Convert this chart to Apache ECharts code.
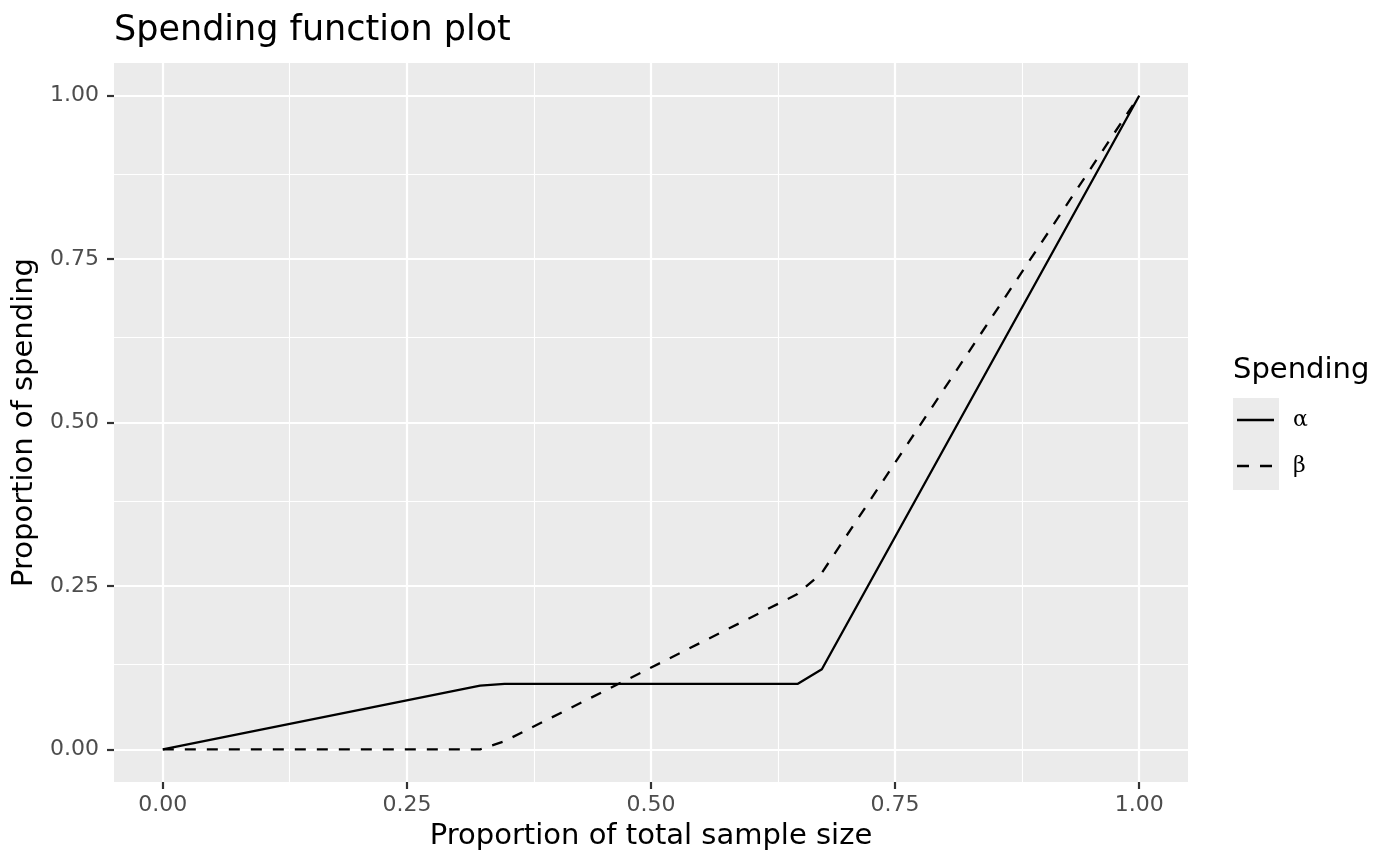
<!DOCTYPE html>
<html><head><meta charset="utf-8">
<script src="https://cdn.jsdelivr.net/npm/echarts@6/dist/echarts.min.js"></script>
<style>html,body{margin:0;padding:0;background:#fff}#c{width:1400px;height:866px}</style>
</head><body><div id="c"></div>
<script>
var xs = [0, 0.325, 0.35, 0.65, 0.675, 1];
var alphaVals = [0, 0.0975, 0.1, 0.1, 0.1225, 1];
var betaVals = [0, 0, 0.0125, 0.2375, 0.27, 1];
var seriesNames = ['\u03b1', '\u03b2'];
var majorTicks = [0, 0.25, 0.5, 0.75, 1];
var minorTicks = [0.125, 0.375, 0.625, 0.875];
var tickLabels = ['0.00', '0.25', '0.50', '0.75', '1.00'];

function pairs(x, y){ return x.map(function(v,i){return [v, y[i]];}); }
var gridLines = [];
minorTicks.forEach(function(v){ gridLines.push({xAxis: v, lineStyle:{width:1.1}}); gridLines.push({yAxis: v, lineStyle:{width:1.1}}); });
majorTicks.forEach(function(v){ gridLines.push({xAxis: v, lineStyle:{width:2.2}}); gridLines.push({yAxis: v, lineStyle:{width:2.2}}); });

var chart = echarts.init(document.getElementById('c'));
var fmt = function(v){ var i = majorTicks.indexOf(v); return i>=0 ? tickLabels[i] : ''; };
var dash = [11, 11];
chart.setOption({
  animation: false,
  backgroundColor: '#fff',
  title: { text: 'Spending function plot', left: 114, top: 13, padding: 0,
    textStyle: { fontFamily: 'DejaVu Sans', fontSize: 35, fontWeight: 'normal', color: '#000' } },
  grid: { left: 114, right: 212, top: 63, bottom: 84, show: true, backgroundColor: '#ebebeb', borderWidth: 0 },
  xAxis: { type: 'value', min: -0.05, max: 1.05,
    name: 'Proportion of total sample size', nameLocation: 'middle', nameGap: 40,
    nameTextStyle: { fontFamily: 'DejaVu Sans', fontSize: 29, color: '#000' },
    axisLine: { show: false, onZero: false }, splitLine: { show: false },
    axisTick: { show: true, length: 7, customValues: majorTicks, lineStyle: { color: '#333', width: 2.2 } },
    axisLabel: { customValues: majorTicks, formatter: fmt, margin: 12, fontFamily: 'DejaVu Sans', fontSize: 22, color: '#4d4d4d' } },
  yAxis: { type: 'value', min: -0.05, max: 1.05,
    name: 'Proportion of spending', nameLocation: 'middle', nameGap: 72, nameRotate: 90,
    nameTextStyle: { fontFamily: 'DejaVu Sans', fontSize: 29, color: '#000' },
    axisLine: { show: false, onZero: false }, splitLine: { show: false },
    axisTick: { show: true, length: 7, customValues: majorTicks, lineStyle: { color: '#333', width: 2.2 } },
    axisLabel: { customValues: majorTicks, formatter: fmt, margin: 15, fontFamily: 'DejaVu Sans', fontSize: 22, color: '#4d4d4d' } },
  graphic: [
    { type: 'rect', left: 1233, top: 398, shape: { width: 46, height: 92 }, style: { fill: '#ebebeb' }, silent: true },
    { type: 'text', x: 1233, y: 370, style: { text: 'Spending', fontFamily: 'DejaVu Sans', fontSize: 29, fill: '#000', verticalAlign: 'middle' } },
    { type: 'line', shape: { x1: 1237, y1: 420, x2: 1274, y2: 420 }, style: { stroke: '#000', lineWidth: 2.3 } },
    { type: 'line', shape: { x1: 1237, y1: 466, x2: 1274, y2: 466 }, style: { stroke: '#000', lineWidth: 2.3, lineDash: [12, 11] } },
    { type: 'text', x: 1293, y: 420, style: { text: seriesNames[0], fontFamily: 'DejaVu Serif', fontSize: 22, fill: '#000', verticalAlign: 'middle' } },
    { type: 'text', x: 1293, y: 466, style: { text: seriesNames[1], fontFamily: 'DejaVu Serif', fontSize: 22, fill: '#000', verticalAlign: 'middle' } }
  ],
  series: [
    { type: 'line', data: [], silent: true, z: 1,
      markLine: { silent: true, symbol: 'none', label: { show: false }, animation: false,
        lineStyle: { color: '#fff', type: 'solid' }, data: gridLines } },
    { name: seriesNames[0], type: 'line', data: pairs(xs, alphaVals), showSymbol: false, symbol: 'none', z: 5,
      lineStyle: { color: '#000', width: 2.3, type: 'solid' }, itemStyle: { color: '#000' } },
    { name: seriesNames[1], type: 'line', data: pairs(xs, betaVals), showSymbol: false, symbol: 'none', z: 5,
      lineStyle: { color: '#000', width: 2.3, type: dash }, itemStyle: { color: '#000' } }
  ]
});
</script></body></html>
